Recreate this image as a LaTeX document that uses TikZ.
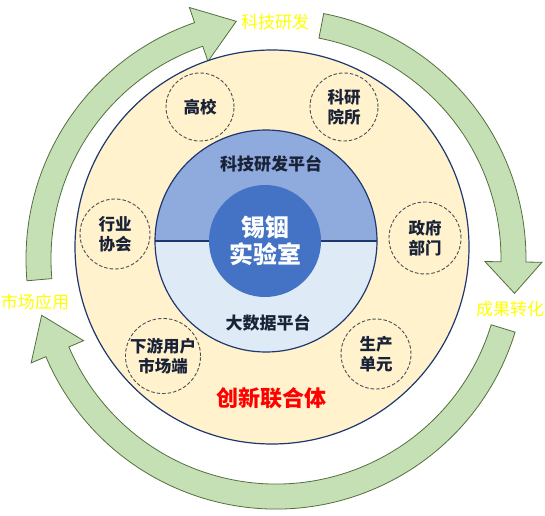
\documentclass[tikz,border=0pt]{standalone}
\usepackage{fontspec}
\newfontfamily\cjk{Noto Sans CJK SC}
\usetikzlibrary{calc}

\definecolor{arrowgreen}{HTML}{C5E0B4}
\definecolor{arrowedge}{HTML}{546F3E}
\definecolor{unionfill}{HTML}{FFF2CC}
\definecolor{navyline}{HTML}{1F3870}
\definecolor{rdfill}{HTML}{8FAADC}
\definecolor{datafill}{HTML}{DEEBF7}
\definecolor{labfill}{HTML}{4472C4}
\definecolor{dashgray}{HTML}{4A4F5A}
\definecolor{labelnavy}{HTML}{1A2238}
\definecolor{stageyellow}{HTML}{FFFF00}

% ring arrow: [head angle], start angle, end angle of the body (clockwise)
\newcommand\ringarrow[3][9.5]{%
  \draw[ringarrow] ($(rc)+(#2:225pt)$) arc[start angle=#2, end angle=#3, radius=225pt]
    -- ($(rc)+(#3:209pt)$) -- ($(rc)+(#3-#1:241pt)$) -- ($(rc)+(#3:266pt)$)
    -- ($(rc)+(#3:250pt)$) arc[start angle=#3, end angle=#2, radius=250pt] -- cycle;}

\begin{document}
\begin{tikzpicture}[x=1pt, y=1pt,
    % Define styles
    ringarrow/.style={fill=arrowgreen, draw=arrowedge, line width=0.8pt},
    partner/.style={circle, draw=dashgray, dash pattern=on 3.5pt off 2pt, line width=0.9pt, inner sep=0pt, align=center, font=\cjk\bfseries\fontsize{16.5}{20}\selectfont, text=labelnavy},
    platform/.style={font=\cjk\bfseries\fontsize{17}{20}\selectfont, text=labelnavy},
    stage/.style={font=\cjk\fontsize{17}{20}\selectfont, text=stageyellow}
  ]
  \useasboundingbox (0,0) rectangle (545,515);

  % Circulating arrows
  \coordinate (rc) at (276,256);
  \ringarrow{185}{109}
  \ringarrow[7.5]{79}{-0.7}
  \ringarrow{-17}{-157}

  % Innovation union
  \node[circle, draw=navyline, line width=1.2pt, fill=unionfill, minimum size=394pt, inner sep=0pt] (union) at (272,268) {};

  % Platforms, split in two halves
  \coordinate (pc) at (266,274);
  \fill[rdfill] ($(pc)+(-111,0)$) arc[start angle=180, end angle=0, radius=111pt] -- cycle;
  \fill[datafill] ($(pc)+(111,0)$) arc[start angle=0, end angle=-180, radius=111pt] -- cycle;
  \draw[navyline, line width=1.2pt] (pc) circle[radius=111pt];
  \draw[navyline, line width=1.2pt] ($(pc)+(-111,0)$) -- ($(pc)+(111,0)$);

  % Laboratory
  \node[circle, fill=labfill, minimum size=112pt, inner sep=0pt, align=center, text=white, font=\cjk\bfseries\fontsize{24}{27}\selectfont] (lab) at (265,274) {锡铟\\实验室};

  \node[platform] (rdplat) at (271,351) {科技研发平台};
  \node[platform] (dataplat) at (268,192) {大数据平台};
  \node[font=\cjk\bfseries\fontsize{22}{26}\selectfont, text=red] (unionlabel) at (271,117) {创新联合体};

  % Partners
  \node[partner, minimum size=68pt] (college) at (200,408) {高校};
  \node[partner, minimum size=68pt] (institute) at (344,408) {科研\\院所};
  \node[partner, minimum size=70pt] (assoc) at (115,281) {行业\\协会};
  \node[partner, minimum size=72pt] (gov) at (425,277) {政府\\部门};
  \node[partner, minimum size=74pt] (market) at (163,159) {下游用户\\市场端};
  \node[partner, minimum size=70pt] (produce) at (376,161) {生产\\单元};

  % Stages of the cycle
  \node[stage] (research) at (275,493) {科技研发};
  \node[stage] (transfer) at (510,206) {成果转化};
  \node[stage] (application) at (35,213) {市场应用};
\end{tikzpicture}
\end{document}
